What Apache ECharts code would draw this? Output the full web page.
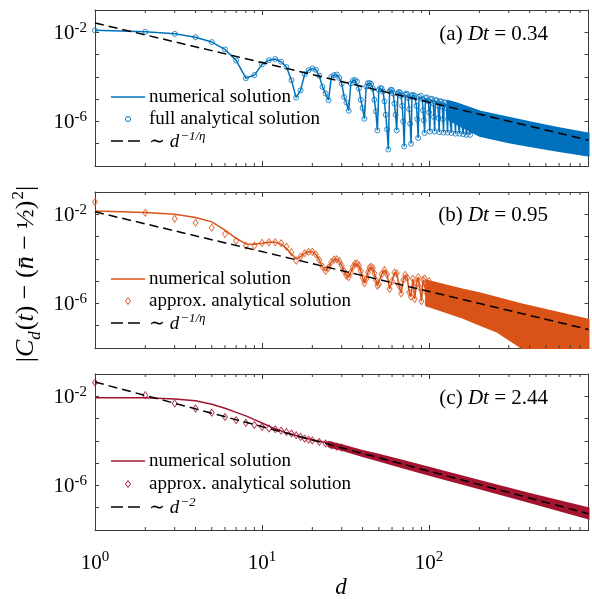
<!DOCTYPE html>
<html>
<head>
<meta charset="utf-8">
<script src="https://cdn.jsdelivr.net/npm/echarts@6/dist/echarts.min.js"></script>
<style>html,body{margin:0;padding:0;background:#fff;}</style>
</head>
<body>
<div id="main" style="width:592px;height:599px;"></div>
<script>
// all values are log10 of |C_d(t) - (n - 1/2)^2|

// (a) Dt = 0.34 : numerical solution (full analytical solution sits on the same points)
var dA = [1,2,3,4,5,6,7,8,9,10,11,12,13,14,15,16,17,18,19,20,21,22,23,24,25,26,27,28,29,30,31,32,33,34,35,36,37,38,39,40,
  41,42,43,44,45,46,47,48,49,50,51,52,53,54,55,56,57,58,59,60,61,62,63,64,65,66,67,68,69,70,71,72,73,74,75,76,77,78,79,80,
  82,84,85,86,87,89,91,92,93,94,95,97,99,100,101,102,104,106,107,108,109,111,113,114,115,116,118,120,121,122,
  123,125,127,129,130,133,136,137,141,144,145,149,152,153,157,160,161,165,168,169,176,177];
var eA = [-1.91,-1.98,-2.07,-2.22,-2.44,-2.77,-3.26,-4.06,-3.92,-3.44,-3.25,-3.2,-3.32,-3.56,-4.15,-4.93,
  -4.61,-3.88,-3.7,-3.62,-3.68,-3.95,-4.45,-4.75,-5.05,
  -4.0,-3.92,-3.9,-4.05,-4.3,-4.9,-5.15,-5.52,
  -4.3,-4.16,-4.14,-4.22,-4.52,-5.03,-5.4,-5.88,
  -4.44,-4.29,-4.27,-4.32,-4.52,-5.03,-5.55,-6.4,
  -4.59,-4.5,-4.52,-4.66,-5.1,-5.7,-6.35,-7.26,
  -4.65,-4.58,-4.6,-4.75,-5.2,-5.7,-6.4,
  -4.75,-4.68,-4.7,-4.85,-5.3,-6.0,-7.12,
  -4.8,-4.75,-4.78,-4.95,-5.45,-6.1,-7.0,
  -4.85,-4.8,-4.85,-5.3,-5.9,-6.74,
  -4.9,-4.85,-5.0,-5.5,-5.95,-6.52,
  -4.95,-4.92,-5.1,-5.6,-6.45,
  -5.0,-4.98,-5.2,-5.8,-6.45,
  -5.05,-5.05,-5.3,-5.85,-6.48,
  -5.1,-5.1,-5.35,-5.9,-6.5,
  -5.15,-5.15,-5.4,-6.5,
  -5.2,-5.25,-6.52,
  -5.3,-5.35,-6.55,
  -5.35,-5.4,-6.55,
  -5.45,-5.45,-6.57,
  -5.5,-5.5,-6.6,
  -5.55,-6.6,
  -5.6];
// dense part: upper / lower edge of the filled band
var bandDA = [130,150,201,300,400,600,900];
var upA = [-5.08,-5.22,-5.55,-5.83,-6.04,-6.3,-6.55];
var loA = [-5.9,-6.15,-6.65,-6.93,-7.1,-7.33,-7.53];

// (b) Dt = 0.95
var dB = [1,2,3,4,5,6,7,8,9,10,11,12,13,14,15,16];
var numB = [-1.85,-1.92,-2.0,-2.14,-2.34,-2.71,-3.08,-3.33,-3.34,-3.3,-3.26,-3.26,-3.34,-3.53,-3.78,-4.0];
var anaB = [-1.45,-1.93,-2.2,-2.38,-2.6,-2.89,-3.19,-3.41,-3.41,-3.28,-3.26,-3.26,-3.3,-3.45,-3.7,-4.08];
var dB2 = [17,18,19,20,21,22,23,24,25,26,27,28,29,30,31,32,33,34,35,36,37,38,39,40,41,42,43,44,45,46,47,48,49,50,
  52,54,56,58,60,62,64,66,68,70,72,74,76,78,80,82,84,86,88,90,92,94,96,98,100];
var eB2 = [-3.9,-3.75,-3.68,-3.68,-3.8,-4.05,-4.35,-4.54,-4.4,-4.15,-4.03,-4.02,-4.1,-4.3,-4.55,-4.75,-4.82,
  -4.6,-4.35,-4.22,-4.2,-4.3,-4.55,-4.85,-5.09,-4.9,-4.6,-4.4,-4.35,-4.42,-4.65,-4.95,-5.2,-5.15,
  -4.7,-4.5,-4.7,-5.35,-5.0,-4.62,-4.65,-5.2,-5.55,-4.95,-4.72,-4.85,-5.5,-5.7,-4.9,
  -5.8,-5.1,-4.82,-5.3,-5.9,-4.95,-4.88,-5.5,-6.0,-5.0];
var bandDB = [96,100,160,200,253,360,400,900];
var upB = [-4.97,-5.0,-5.38,-5.54,-5.74,-6.05,-6.13,-6.73];
var loB = [-6.08,-6.13,-6.65,-6.95,-7.25,-8.0,-8.0,-8.0];

// (c) Dt = 2.44
var dC = [1,2,3,4,5,6,7,8,9,10,12,14,16,18,20,25,30];
var numC = [-2.07,-2.07,-2.12,-2.2,-2.36,-2.54,-2.72,-2.88,-3.05,-3.2,-3.46,-3.64,-3.76,-3.87,-3.95,-4.1,-4.24];
var dC2 = [1,2,3,4,5,6,7,8,9,10,11,12,13,14,15,16,17,18,19,20,22,24,26,28,30];
var anaC = [-1.38,-1.95,-2.32,-2.55,-2.74,-2.93,-3.07,-3.19,-3.29,-3.37,-3.44,-3.48,-3.54,-3.6,-3.67,-3.75,
  -3.82,-3.9,-3.95,-3.98,-4.05,-4.12,-4.2,-4.26,-4.3];
var bandDC = [25,30,40,50,70,100,200,400,900];
var upC = [-4.05,-4.2,-4.45,-4.62,-4.9,-5.2,-5.8,-6.38,-7.03];
var loC = [-4.25,-4.4,-4.68,-4.88,-5.2,-5.52,-6.13,-6.74,-7.48];

// power-law guides (straight on log-log, two ends)
var powD = [1, 900];
var powA = [-1.58, -6.84];
var powB = [-1.89, -7.17];
var powC = [-1.36, -7.27];

var minorD = [2,3,4,5,6,7,8,9,20,30,40,50,60,70,80,90,200,300,400,500,600,700,800];

var FONT = "'Liberation Serif', 'DejaVu Serif', serif";
var AXIS = '#3c3c3c';
var colA = '#0072BD', colB = '#D95319', colC = '#A2142F';
var tops = [10, 192, 374];
var GH = 156;

function pts(ds, es) {
    return ds.map(function (d, i) { return [d, Math.pow(10, es[i])]; });
}

function bandSeries(i, ds, up, lo, color) {
    return {
        type: 'custom', xAxisIndex: i, yAxisIndex: i, silent: true, z: 2,
        data: [[ds[0], Math.pow(10, up[0])]],
        renderItem: function (params, api) {
            var p = [];
            for (var k = 0; k < ds.length; k++) p.push(api.coord([ds[k], Math.pow(10, up[k])]));
            for (var j = ds.length - 1; j >= 0; j--) p.push(api.coord([ds[j], Math.pow(10, lo[j])]));
            return { type: 'polygon', shape: { points: p }, style: { fill: color, stroke: color, lineWidth: 2 } };
        }
    };
}

function minorTicks(i) {
    return {
        type: 'custom', xAxisIndex: i, yAxisIndex: i, silent: true, z: 10,
        data: minorD.map(function (d) { return [d, 1e-8]; }),
        renderItem: function (params, api) {
            var b = api.coord([api.value(0), 1e-8]);
            var t = api.coord([api.value(0), 1e-1]);
            return { type: 'group', children: [
                { type: 'line', shape: { x1: b[0], y1: b[1], x2: b[0], y2: b[1] - 3 }, style: { stroke: AXIS, lineWidth: 1 } },
                { type: 'line', shape: { x1: t[0], y1: t[1], x2: t[0], y2: t[1] + 3 }, style: { stroke: AXIS, lineWidth: 1 } }
            ] };
        }
    };
}

function lineS(name, i, data, color) {
    return { name: name, type: 'line', xAxisIndex: i, yAxisIndex: i, data: data, symbol: 'none',
        lineStyle: { color: color, width: 1.5 }, itemStyle: { color: color }, z: 3 };
}
function markS(name, i, data, color, sym, size) {
    return { name: name, type: 'scatter', xAxisIndex: i, yAxisIndex: i, data: data, symbol: sym, symbolSize: size,
        itemStyle: { color: 'rgba(255,255,255,0)', borderColor: color, borderWidth: 1 }, z: 4 };
}
function powS(name, i, es) {
    return { name: name, type: 'line', xAxisIndex: i, yAxisIndex: i, data: pts(powD, es), symbol: 'none',
        lineStyle: { color: '#000', width: 1.5, type: [9, 5] }, itemStyle: { color: '#000' }, z: 5 };
}

var tickRich = {
    b: { fontSize: 21, fontFamily: FONT, color: '#000', verticalAlign: 'bottom' },
    s: { fontSize: 15, fontFamily: FONT, color: '#000', verticalAlign: 'bottom', padding: [0, 0, 9, 0] }
};
var xAxes = [], yAxes = [], grids = [];
for (var i = 0; i < 3; i++) {
    grids.push({ left: 95, width: 493.5, top: tops[i], height: GH });
}
for (var side = 0; side < 2; side++) {
    for (var g = 0; g < 3; g++) {
        xAxes.push({
            gridIndex: g, type: 'log', logBase: 10, min: 1, max: 900,
            position: side === 0 ? 'bottom' : 'top',
            axisLine: { show: true, onZero: false, lineStyle: { color: AXIS, width: 1 } },
            axisTick: { show: true, inside: true, length: 5, lineStyle: { color: AXIS } },
            splitLine: { show: false },
            axisLabel: {
                show: side === 0 && g === 2, margin: 20, fontSize: 21, fontFamily: FONT, color: '#000',
                rich: tickRich,
                formatter: function (v) {
                    var l = Math.log10(v), e = Math.round(l);
                    if (Math.abs(l - e) > 1e-6) return '';
                    return '{b|10}{s|' + e + '}';
                }
            }
        });
        yAxes.push({
            gridIndex: g, type: 'log', logBase: 10, min: 1e-8, max: 1e-1, splitNumber: 7, interval: 1,
            position: side === 0 ? 'left' : 'right',
            axisLine: { show: true, onZero: false, lineStyle: { color: AXIS, width: 1 } },
            axisTick: { show: true, inside: true, length: 4, lineStyle: { color: AXIS } },
            splitLine: { show: false },
            axisLabel: {
                show: side === 0, margin: 8, fontSize: 21, fontFamily: FONT, color: '#000',
                rich: tickRich,
                formatter: function (v) {
                    var e = Math.round(Math.log10(v));
                    if (e !== -2 && e !== -6) return '';
                    return '{b|10}{s|' + e + '}';
                }
            }
        });
    }
}

// legend rows drawn by hand: row centres, panel colour, marker, marker label, guide label
var legTxt = {
    num: 'numerical solution',
    full: 'full analytical solution',
    approx: 'approx. analytical solution',
    eta: '{t|\u223C }{i|d}{s|\u22121/\u03B7}',
    two: '{t|\u223C }{i|d}{s|\u22122}'
};
var legRows = [
    [97, 119, 141, colA, 'circle', legTxt.full, legTxt.eta],
    [279, 301, 323, colB, 'diamond', legTxt.approx, legTxt.eta],
    [461, 484, 507, colC, 'diamond', legTxt.approx, legTxt.two]
];
var legRich = {
    i: { fontStyle: 'italic', fontSize: 19, fontFamily: FONT, fill: '#000', verticalAlign: 'bottom' },
    t: { fontSize: 19, fontFamily: FONT, fill: '#000', verticalAlign: 'bottom' },
    s: { fontStyle: 'italic', fontSize: 13, fontFamily: FONT, fill: '#000', verticalAlign: 'bottom', padding: [0, 0, 8, 1] }
};
function legText(y, txt) {
    return { type: 'text', x: 149, y: y, style: { text: txt, rich: legRich, fontSize: 19, fontFamily: FONT,
        fill: '#000', align: 'left', verticalAlign: 'middle' } };
}
var legendEls = [];
legRows.forEach(function (r) {
    var col = r[3];
    legendEls.push({ type: 'line', shape: { x1: 111, y1: r[0], x2: 145, y2: r[0] }, style: { stroke: col, lineWidth: 1.5 } });
    legendEls.push(legText(r[0], legTxt.num));
    if (r[4] === 'circle') {
        legendEls.push({ type: 'circle', shape: { cx: 128, cy: r[1], r: 2.5 }, style: { fill: 'none', stroke: col, lineWidth: 1 } });
    } else {
        legendEls.push({ type: 'polygon', shape: { points: [[128, r[1] - 3.5], [130.5, r[1]], [128, r[1] + 3.5], [125.5, r[1]]] },
            style: { fill: 'none', stroke: col, lineWidth: 1 } });
    }
    legendEls.push(legText(r[1], r[5]));
    legendEls.push({ type: 'line', shape: { x1: 111, y1: r[2], x2: 145, y2: r[2] },
        style: { stroke: '#000', lineWidth: 1.5, lineDash: [12, 5] } });
    legendEls.push(legText(r[2], r[6]));
});

var annRich = {
    i: { fontStyle: 'italic', fontSize: 21, fontFamily: FONT, fill: '#000' }
};
function ann(y, txt) {
    return { type: 'text', x: 548, y: y, style: { text: txt, rich: annRich, fontSize: 21, fontFamily: FONT,
        fill: '#000', align: 'right', verticalAlign: 'middle' } };
}

var yRich = {
    r: { fontSize: 26, fontFamily: FONT, fill: '#000', verticalAlign: 'bottom', padding: [0, 0, 5, 0] },
    i: { fontStyle: 'italic', fontSize: 26, fontFamily: FONT, fill: '#000', verticalAlign: 'bottom', padding: [0, 0, 5, 0] },
    b: { fontStyle: 'italic', fontSize: 17, fontFamily: FONT, fill: '#000', verticalAlign: 'bottom', padding: [0, 1, 0, 0] },
    u: { fontSize: 17, fontFamily: FONT, fill: '#000', verticalAlign: 'bottom', padding: [0, 0, 17, 1] }
};

var myChart = echarts.init(document.getElementById('main'));
myChart.setOption({
    animation: false,
    backgroundColor: '#fff',
    grid: grids,
    xAxis: xAxes,
    yAxis: yAxes,
    graphic: [
        ann(34, '(a) {i|Dt} = 0.34'),
        ann(215, '(b) {i|Dt} = 0.95'),
        ann(398, '(c) {i|Dt} = 2.44'),
        { type: 'text', x: 341, y: 588, style: { text: 'd', fontStyle: 'italic', fontSize: 23, fontFamily: FONT,
            fill: '#000', align: 'center', verticalAlign: 'middle' } },
        { type: 'text', x: 27, y: 274, rotation: Math.PI / 2,
          style: { text: '{r||}{i|C}{b|d}{r|(}{i|t}{r|) \u2212 (}{i|n\u0304}{r| \u2212 \u00BD)}{u|2}{r||}',
            fontSize: 26, fontFamily: FONT, fill: '#000', align: 'center', verticalAlign: 'middle', rich: yRich } }
    ].concat(legendEls),
    series: [
        bandSeries(0, bandDA, upA, loA, colA),
        lineS('numA', 0, pts(dA, eA), colA),
        markS('anaA', 0, pts(dA, eA), colA, 'circle', 5),
        powS('powA', 0, powA),
        minorTicks(0),

        bandSeries(1, bandDB, upB, loB, colB),
        lineS('numB', 1, pts(dB, numB).concat(pts(dB2, eB2)), colB),
        markS('anaB', 1, pts(dB, anaB).concat(pts(dB2, eB2)), colB, 'diamond', [5, 7]),
        powS('powB', 1, powB),
        minorTicks(1),

        bandSeries(2, bandDC, upC, loC, colC),
        lineS('numC', 2, pts(dC, numC), colC),
        markS('anaC', 2, pts(dC2, anaC), colC, 'diamond', [5, 7]),
        powS('powC', 2, powC),
        minorTicks(2)
    ]
});
</script>
</body>
</html>
